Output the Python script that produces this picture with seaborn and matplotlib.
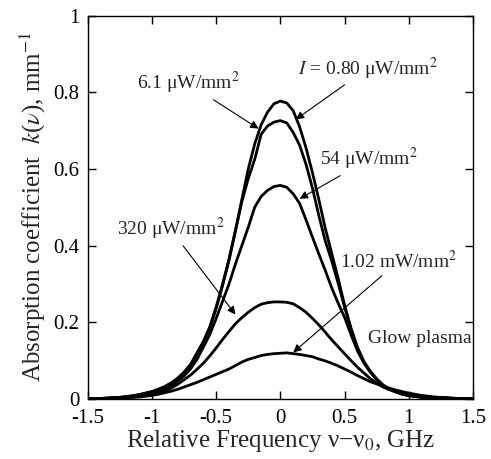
import numpy as np
import pandas as pd
import matplotlib
matplotlib.use("Agg")
import matplotlib.pyplot as plt
import seaborn as sns

# ---- data ----
freq = [round(-1.5 + 0.05 * i, 2) for i in range(61)]

k_080uW = [0.000, 0.001, 0.001, 0.002, 0.003, 0.004, 0.006, 0.008, 0.011, 0.015,
           0.019, 0.025, 0.032, 0.042, 0.054, 0.070, 0.090, 0.120, 0.150, 0.188,
           0.240, 0.300, 0.365, 0.440, 0.520, 0.600, 0.665, 0.715, 0.748, 0.770,
           0.777, 0.772, 0.752, 0.710, 0.655, 0.590, 0.520, 0.445, 0.380, 0.315,
           0.245, 0.185, 0.135, 0.098, 0.072, 0.052, 0.036, 0.026, 0.019, 0.013,
           0.009, 0.007, 0.005, 0.004, 0.003, 0.002, 0.002, 0.001, 0.001, 0.000, 0.000]

k_61uW = [0.000, 0.001, 0.001, 0.002, 0.003, 0.004, 0.006, 0.008, 0.011, 0.015,
          0.019, 0.025, 0.032, 0.041, 0.053, 0.068, 0.088, 0.117, 0.147, 0.185,
          0.236, 0.296, 0.362, 0.438, 0.515, 0.575, 0.625, 0.690, 0.712, 0.722,
          0.726, 0.720, 0.695, 0.662, 0.612, 0.550, 0.478, 0.412, 0.360, 0.302,
          0.240, 0.183, 0.133, 0.097, 0.072, 0.052, 0.036, 0.026, 0.019, 0.013,
          0.009, 0.007, 0.005, 0.004, 0.003, 0.002, 0.002, 0.001, 0.001, 0.000, 0.000]

k_54uW = [0.000, 0.001, 0.001, 0.001, 0.002, 0.003, 0.004, 0.005, 0.007, 0.010,
          0.014, 0.019, 0.026, 0.035, 0.046, 0.060, 0.078, 0.103, 0.135, 0.168,
          0.210, 0.255, 0.300, 0.352, 0.400, 0.448, 0.500, 0.528, 0.544, 0.554,
          0.557, 0.552, 0.535, 0.510, 0.467, 0.422, 0.378, 0.335, 0.290, 0.250,
          0.213, 0.168, 0.126, 0.094, 0.070, 0.050, 0.035, 0.025, 0.018, 0.012,
          0.008, 0.006, 0.004, 0.003, 0.002, 0.002, 0.001, 0.001, 0.001, 0.000, 0.000]

k_320uW = [0.000, 0.001, 0.001, 0.002, 0.002, 0.003, 0.004, 0.005, 0.007, 0.009,
           0.011, 0.014, 0.020, 0.028, 0.038, 0.050, 0.062, 0.077, 0.093, 0.112,
           0.133, 0.155, 0.176, 0.196, 0.212, 0.226, 0.238, 0.247, 0.251, 0.253,
           0.253, 0.252, 0.248, 0.238, 0.226, 0.210, 0.193, 0.174, 0.154, 0.136,
           0.118, 0.100, 0.083, 0.068, 0.053, 0.041, 0.031, 0.024, 0.018, 0.013,
           0.010, 0.007, 0.005, 0.004, 0.003, 0.002, 0.002, 0.001, 0.001, 0.000, 0.000]

k_102mW = [0.000, 0.001, 0.001, 0.001, 0.002, 0.002, 0.003, 0.004, 0.005, 0.007,
           0.009, 0.012, 0.016, 0.020, 0.025, 0.031, 0.037, 0.043, 0.050, 0.057,
           0.064, 0.071, 0.078, 0.087, 0.096, 0.103, 0.108, 0.113, 0.116, 0.118,
           0.119, 0.120, 0.118, 0.116, 0.113, 0.110, 0.104, 0.099, 0.093, 0.086,
           0.078, 0.070, 0.061, 0.053, 0.045, 0.039, 0.033, 0.028, 0.023, 0.019,
           0.015, 0.012, 0.009, 0.007, 0.005, 0.004, 0.003, 0.002, 0.001, 0.001, 0.000]

series_names = ["0.80 uW", "6.1 uW", "54 uW", "320 uW", "1.02 mW"]
x_ticks = [-1.5, -1, -0.5, 0, 0.5, 1, 1.5]
x_tick_labels = ["-1.5", "-1", "-0.5", "0", "0.5", "1", "1.5"]
y_ticks = [0, 0.2, 0.4, 0.6, 0.8, 1]
y_tick_labels = ["0", "0.2", "0.4", "0.6", "0.8", "1"]

# ---- build long table ----
frames = []
for name, vals in zip(series_names, [k_080uW, k_61uW, k_54uW, k_320uW, k_102mW]):
    frames.append(pd.DataFrame({"freq": freq, "k": vals, "series": name}))
df = pd.concat(frames, ignore_index=True)

sns.set_style("ticks")
plt.rcParams["font.family"] = ["Liberation Serif", "DejaVu Serif"]
plt.rcParams["mathtext.fontset"] = "stix"

fig = plt.figure(figsize=(4.91, 4.59), dpi=100)
ax = fig.add_axes([0.179, 0.131, 0.784, 0.835])

sns.lineplot(data=df, x="freq", y="k", hue="series", units="series",
             estimator=None, palette=["black"] * 5, linewidth=2.0,
             legend=False, ax=ax, sort=False)

ax.set_xlim(-1.5, 1.5)
ax.set_ylim(0, 1)
ax.set_xticks(x_ticks)
ax.set_xticklabels(x_tick_labels)
ax.set_yticks(y_ticks)
ax.set_yticklabels(y_tick_labels)
ax.tick_params(direction="in", length=6, width=1, top=True, right=True,
               labelsize=15, colors="black")
ax.tick_params(axis="x", pad=7)
ax.tick_params(axis="y", pad=6)
for s in ax.spines.values():
    s.set_linewidth(1.0)
    s.set_color("black")

ax.set_xlabel(r"Relative Frequency ν−ν$_0$, GHz", fontsize=18, labelpad=0)
ax.set_ylabel(r"Absorption coefficient  $k$($\nu$), mm$^{-1}$", fontsize=18, labelpad=4)

arrow = dict(arrowstyle="-|>", color="black", lw=0.8, mutation_scale=12,
             shrinkA=0, shrinkB=0)
fs = 14
ax.annotate(r"6.1 μW/mm$^2$", xy=(-0.17, 0.705), xytext=(-0.72, 0.789),
            arrowprops=arrow, fontsize=fs, ha="center", va="bottom")
ax.annotate(r"$I$ = 0.80 μW/mm$^2$", xy=(0.12, 0.729), xytext=(0.68, 0.828),
            arrowprops=arrow, fontsize=fs, ha="center", va="bottom")
ax.annotate(r"54 μW/mm$^2$", xy=(0.15, 0.522), xytext=(0.69, 0.591),
            arrowprops=arrow, fontsize=fs, ha="center", va="bottom")
ax.annotate(r"320 μW/mm$^2$", xy=(-0.35, 0.220), xytext=(-0.855, 0.408),
            arrowprops=arrow, fontsize=fs, ha="center", va="bottom")
ax.annotate(r"1.02 mW/mm$^2$", xy=(0.10, 0.121), xytext=(0.92, 0.33),
            arrowprops=arrow, fontsize=fs, ha="center", va="bottom")
ax.text(1.09, 0.158, "Glow plasma", fontsize=fs, ha="center", va="center")

fig.savefig("out.png", dpi=100)
